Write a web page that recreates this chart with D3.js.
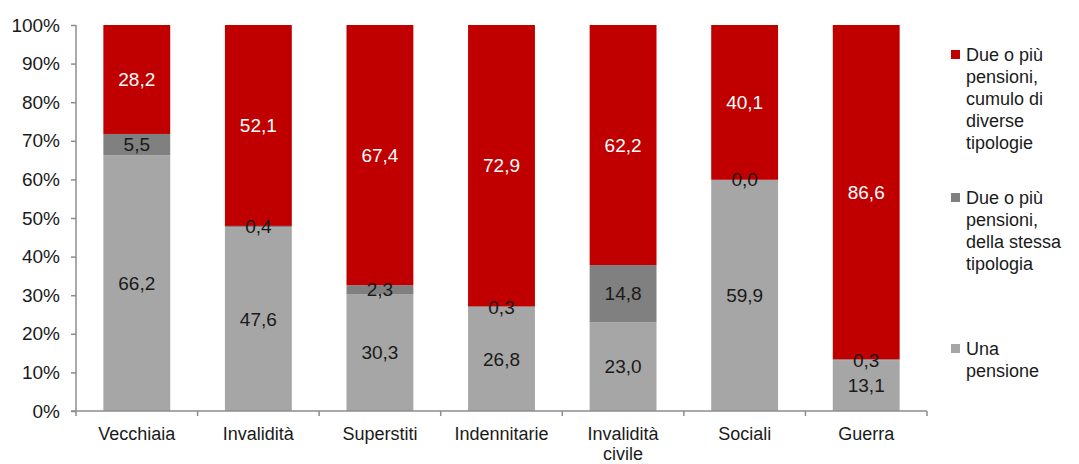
<!DOCTYPE html>
<html>
<head>
<meta charset="utf-8">
<script src="https://cdn.jsdelivr.net/npm/d3@7"></script>
<style>
  html, body { margin: 0; padding: 0; background: #fff; }
  svg { display: block; font-family: "Liberation Sans", Arial, sans-serif; }
</style>
</head>
<body>
<svg id="chart" width="1079" height="464"></svg>
<script>
// Pension categories
const categories = ["Vecchiaia", "Invalidità", "Superstiti", "Indennitarie", "Invalidità civile", "Sociali", "Guerra"];
const categoryLines = [["Vecchiaia"], ["Invalidità"], ["Superstiti"], ["Indennitarie"], ["Invalidità", "civile"], ["Sociali"], ["Guerra"]];

// Share of pensioners (%) by type, bottom to top of each stack
const unaPensione   = [66.2, 47.6, 30.3, 26.8, 23.0, 59.9, 13.1];
const stessaTipo    = [5.5, 0.4, 2.3, 0.3, 14.8, 0.0, 0.3];
const diverseTipo   = [28.2, 52.1, 67.4, 72.9, 62.2, 40.1, 86.6];

const seriesNames = ["Una pensione", "Due o più pensioni, della stessa tipologia", "Due o più pensioni, cumulo di diverse tipologie"];
const legendLines = [
  ["Due o più", "pensioni,", "cumulo di", "diverse", "tipologie"],
  ["Due o più", "pensioni,", "della stessa", "tipologia"],
  ["Una", "pensione"]
];
const yTicks = [0, 10, 20, 30, 40, 50, 60, 70, 80, 90, 100];

const colors = ["#a6a6a6", "#808080", "#c00000"];
const labelColors = ["#1a1a1a", "#1a1a1a", "#ffffff"];
const FS = 19;

const svg = d3.select("#chart");
const margin = { left: 76, right: 152, top: 25, bottom: 53 };
const W = 1079, H = 464;

const x = d3.scaleBand().domain(categories).range([margin.left, W - margin.right]).paddingInner(0.45).paddingOuter(0.225);
const y = d3.scaleLinear().domain([0, 100]).range([H - margin.bottom, margin.top]);

const rows = categories.map((c, i) => ({ cat: c, s0: unaPensione[i], s1: stessaTipo[i], s2: diverseTipo[i] }));
const stack = d3.stack().keys(["s0", "s1", "s2"]);
const stacked = stack(rows);

// Normalise each stack to 100% so the top reaches the axis maximum
const totals = rows.map(r => r.s0 + r.s1 + r.s2);

const g = svg.append("g");
stacked.forEach((layer, k) => {
  g.selectAll(null).data(layer).join("rect")
    .attr("x", d => x(d.data.cat))
    .attr("width", x.bandwidth())
    .attr("y", (d, i) => y(d[1] / totals[i] * 100))
    .attr("height", (d, i) => y(d[0] / totals[i] * 100) - y(d[1] / totals[i] * 100))
    .attr("fill", colors[k]);
});

// Value labels centred in each segment
stacked.forEach((layer, k) => {
  g.selectAll(null).data(layer).join("text")
    .attr("x", d => x(d.data.cat) + x.bandwidth() / 2)
    .attr("y", (d, i) => y((d[0] + d[1]) / 2 / totals[i] * 100))
    .attr("dy", "0.35em")
    .attr("text-anchor", "middle")
    .attr("font-size", FS)
    .attr("fill", labelColors[k])
    .text(d => d3.format(".1f")(d[1] - d[0]).replace(".", ","));
});

const axisColor = "#8c8c8c";

// Y axis
const yAxis = svg.append("g").attr("transform", `translate(${margin.left},0)`)
  .call(d3.axisLeft(y).tickValues(yTicks).tickSize(5).tickPadding(11).tickFormat(d => d + "%"));
yAxis.select(".domain").attr("stroke", axisColor).attr("stroke-width", 1.5).attr("d", `M0,${y(0)}V${y(100)}`);
yAxis.selectAll(".tick line").attr("stroke", axisColor).attr("stroke-width", 1.5);
yAxis.selectAll(".tick text").attr("font-size", FS).attr("fill", "#1a1a1a").attr("font-family", "Liberation Sans, Arial, sans-serif");

// X axis line with ticks at band boundaries
const xAxisG = svg.append("g");
xAxisG.append("line")
  .attr("x1", margin.left - 5).attr("x2", W - margin.right)
  .attr("y1", y(0)).attr("y2", y(0))
  .attr("stroke", axisColor).attr("stroke-width", 1.5);
const boundaries = d3.range(categories.length + 1).map(i => margin.left + i * (W - margin.right - margin.left) / categories.length);
xAxisG.selectAll(null).data(boundaries).join("line")
  .attr("x1", d => d).attr("x2", d => d)
  .attr("y1", y(0)).attr("y2", y(0) + 5)
  .attr("stroke", axisColor).attr("stroke-width", 1.5);

// Category labels, one text element per line
categories.forEach((c, i) => {
  categoryLines[i].forEach((line, j) => {
    xAxisG.append("text")
      .attr("x", x(c) + x.bandwidth() / 2)
      .attr("y", y(0) + 29 + j * 20)
      .attr("text-anchor", "middle")
      .attr("font-size", 18)
      .attr("fill", "#1a1a1a")
      .text(line);
  });
});

// Legend (top series first)
const legendTop = [55, 198, 349];
const legendOrder = [2, 1, 0];
const legend = svg.append("g");
legendOrder.forEach((k, idx) => {
  const ly = legendTop[idx];
  legend.append("rect")
    .attr("x", 951).attr("y", ly - 5).attr("width", 9).attr("height", 9)
    .attr("fill", colors[k]);
  const t = legend.append("text")
    .attr("x", 966).attr("y", ly)
    .attr("font-size", 18).attr("fill", "#1a1a1a");
  t.selectAll("tspan").data(legendLines[idx]).join("tspan")
    .attr("x", 966)
    .attr("dy", (s, j) => j === 0 ? "0.35em" : 22)
    .text(s => s);
});
</script>
</body>
</html>
